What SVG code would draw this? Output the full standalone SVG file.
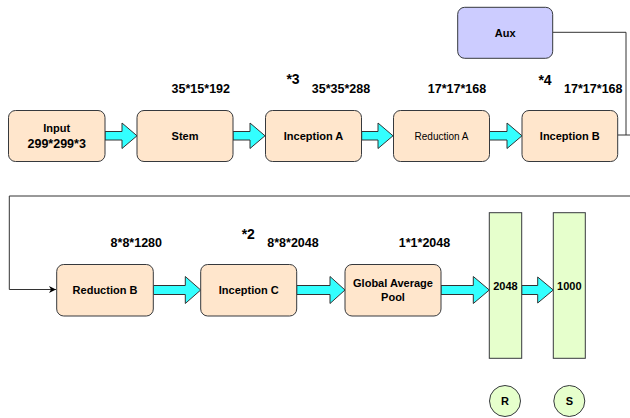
<svg xmlns="http://www.w3.org/2000/svg" width="630" height="418" viewBox="0 0 630 418">
<defs>
<style>
text{font-family:"Liberation Sans",Arial,sans-serif;fill:#000;text-anchor:middle}
.n{fill:#FFE6CC;stroke:#36393D;stroke-width:1}
.aux{fill:#CCCCFF;stroke:#36393D;stroke-width:1}
.g{fill:#E6FFCC;stroke:#36393D;stroke-width:1}
.t{font-size:11px;font-weight:bold}
.r{font-size:10px}
.d{font-size:12.5px;font-weight:bold}
.m{font-size:14px;font-weight:bold}
.ba{fill:#33FFFF;stroke:#333;stroke-width:1}
.ln{fill:none;stroke:#333;stroke-width:1}
</style>
<marker id="ah" markerWidth="8" markerHeight="8" refX="7" refY="4" orient="auto" markerUnits="userSpaceOnUse">
<path d="M0,0.5 L7,4 L0,7.5 L2,4 Z" fill="#000"/>
</marker>
</defs>
<rect width="630" height="418" fill="#fff"/>
<g id="connectors">
<polyline class="ln" points="552.7,32.3 626,32.3 626,135"/>
<line class="ln" x1="617.7" y1="135" x2="630" y2="135"/>
<polyline class="ln" points="630,196 9.3,196 9.3,289.5 56,289.5" marker-end="url(#ah)"/>
<polygon class="ba" points="105,131.5 122,131.5 122,123 137,135.8 122,148.5 122,140 105,140"/>
<polygon class="ba" points="233,131.5 250,131.5 250,123 265,135.8 250,148.5 250,140 233,140"/>
<polygon class="ba" points="361.7,131.5 378,131.5 378,123 393,135.8 378,148.5 378,140 361.7,140"/>
<polygon class="ba" points="489,131.5 507,131.5 507,123 522,135.8 507,148.5 507,140 489,140"/>
<polygon class="ba" points="153.3,285.5 185.3,285.5 185.3,276.5 200.7,290 185.3,303.5 185.3,294.5 153.3,294.5"/>
<polygon class="ba" points="296.7,285.5 330,285.5 330,276.5 345,290 330,303.5 330,294.5 296.7,294.5"/>
<polygon class="ba" points="441,285.5 473.3,285.5 473.3,276.5 489.3,290 473.3,303.5 473.3,294.5 441,294.5"/>
<polygon class="ba" points="521.7,285.5 537.7,285.5 537.7,277 553.3,290 537.7,303 537.7,294.5 521.7,294.5"/>
</g>
<g id="input"><rect class="n" x="8.5" y="110.5" width="96.5" height="51" rx="7"/><text class="t" x="56.7" y="132">Input</text><text class="d" x="56.7" y="147.7">299*299*3</text></g>
<g id="stem"><rect class="n" x="137" y="110.5" width="96" height="51" rx="7"/><text class="t" x="185" y="140">Stem</text></g>
<g id="inceptionA"><rect class="n" x="265.5" y="110.5" width="96" height="51" rx="7"/><text class="t" x="313.5" y="140">Inception A</text></g>
<g id="reductionA"><rect class="n" x="393.5" y="110.5" width="96" height="51" rx="7"/><text class="r" x="441.5" y="139.5">Reduction A</text></g>
<g id="inceptionB"><rect class="n" x="522" y="110.5" width="95.7" height="51" rx="7"/><text class="t" x="569.8" y="140">Inception B</text></g>
<g id="aux"><rect class="aux" x="457.7" y="7.3" width="95" height="51" rx="7"/><text class="t" x="505.2" y="36.5">Aux</text></g>
<g id="reductionB"><rect class="n" x="56.7" y="264.5" width="96.6" height="51.5" rx="7"/><text class="t" x="105" y="294">Reduction B</text></g>
<g id="inceptionC"><rect class="n" x="200.7" y="264.5" width="96" height="51.5" rx="7"/><text class="t" x="248.7" y="294">Inception C</text></g>
<g id="gap"><rect class="n" x="345" y="264.5" width="96" height="51.5" rx="7"/><text class="t" x="393" y="286.5">Global Average</text><text class="t" x="393" y="300.5">Pool</text></g>
<g id="fc2048"><rect class="g" x="489.3" y="212.7" width="32.4" height="145.6"/><text class="t" x="505.5" y="290">2048</text></g>
<g id="fc1000"><rect class="g" x="553.3" y="212.7" width="32" height="145.6"/><text class="t" x="569.3" y="290">1000</text></g>
<g id="R"><circle class="g" cx="505" cy="401" r="15.5"/><text class="t" x="505" y="405">R</text></g>
<g id="S"><circle class="g" cx="569.3" cy="401" r="15.5"/><text class="t" x="569.3" y="405">S</text></g>
<g id="labels">
<text class="d" x="200.8" y="93.3">35*15*192</text>
<text class="m" x="293" y="84">*3</text>
<text class="d" x="341" y="93.3">35*35*288</text>
<text class="d" x="457" y="93.3">17*17*168</text>
<text class="m" x="545" y="85">*4</text>
<text class="d" x="593.3" y="93.3">17*17*168</text>
<text class="d" x="136.3" y="247.3">8*8*1280</text>
<text class="m" x="248.3" y="239.3">*2</text>
<text class="d" x="293" y="247.3">8*8*2048</text>
<text class="d" x="424.5" y="247.3">1*1*2048</text>
</g>
</svg>
